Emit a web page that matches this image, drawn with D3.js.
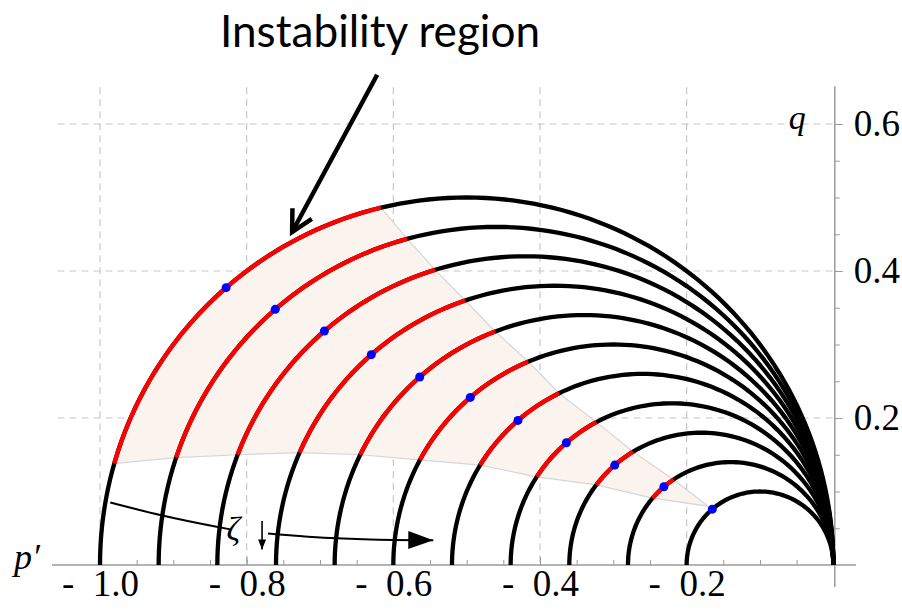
<!DOCTYPE html>
<html>
<head>
<meta charset="utf-8">
<script src="https://cdn.jsdelivr.net/npm/d3@7"></script>
<style>
  body { margin: 0; background: #fff; }
  svg { display: block; }
</style>
</head>
<body>
<svg id="bg" width="902" height="610"></svg>
<script>
// left end of every circle (each one also passes through p' = 0)
var leftEnds = [-1.0, -0.92, -0.84, -0.76, -0.68, -0.60, -0.52, -0.44, -0.36, -0.28, -0.20];
// q where the red part starts on the lower side of each circle
var redStartQ = [0.138, 0.146, 0.150, 0.153, 0.150, 0.143, 0.136, 0.120, 0.109, 0.091];
// p' where the red part stops on the upper side
var redEndP = [-0.617, -0.581, -0.543, -0.502, -0.461, -0.416, -0.374, -0.323, -0.273, -0.218];
// blue points (p' value on each circle)
var dotP = [-0.828, -0.761, -0.694, -0.630, -0.564, -0.495, -0.430, -0.364, -0.298, -0.231, -0.165];
// tip of the shaded region
var tipP = -0.1705, tipQ = 0.080;

var xTicks = [-1.0, -0.8, -0.6, -0.4, -0.2];
var xTickLabels = ['-\u20021.0', '-\u20020.8', '-\u20020.6', '-\u20020.4', '-\u20020.2'];
var yTicks = [0.2, 0.4, 0.6];
var yTickLabels = ['0.2', '0.4', '0.6'];

// annotations, in data units
var titleArrow = [[-0.622, 0.667], [-0.738, 0.453]];
var zetaPath1 = [[-0.986, 0.085], [-0.918, 0.068], [-0.841, 0.052], [-0.823, 0.0486]];
var zetaPath2 = [[-0.771, 0.043], [-0.677, 0.0363], [-0.600, 0.034], [-0.5455, 0.0336]];
var zetaDown = [[-0.779, 0.060], [-0.779, 0.021]];

var x = d3.scaleLinear().domain([-1, 0]).range([100, 833.3]);
var y = d3.scaleLinear().domain([0, 0.6]).range([565, 124]);

var svg = d3.select('#bg');
var serif = '"Liberation Serif", "Times New Roman", serif';

// grid
var gGrid = svg.append('g').attr('class', 'grid');
xTicks.forEach(function(t) {
  gGrid.append('line')
    .attr('x1', x(t)).attr('x2', x(t))
    .attr('y1', y(0.65)).attr('y2', y(0))
    .attr('stroke', '#c8c8c8').attr('stroke-width', 1.2)
    .attr('stroke-dasharray', '7,5');
});
yTicks.forEach(function(t) {
  gGrid.append('line')
    .attr('x1', x(-1.058)).attr('x2', x(0))
    .attr('y1', y(t)).attr('y2', y(t))
    .attr('stroke', '#c8c8c8').attr('stroke-width', 1.2)
    .attr('stroke-dasharray', '7,5');
});

function circ(i) {
  var d = -leftEnds[i];
  return { c: -d / 2, r: d / 2 };
}
function arcPts(i, a0, a1) {
  var k = circ(i), pts = [], n = 120;
  for (var j = 0; j <= n; j++) {
    var a = a0 + (a1 - a0) * j / n;
    pts.push([k.c + k.r * Math.cos(a), k.r * Math.sin(a)]);
  }
  return pts;
}
function startAngle(i) {
  var k = circ(i);
  return Math.PI - Math.asin(redStartQ[i] / k.r);
}
function endAngle(i) {
  var k = circ(i);
  return Math.acos((redEndP[i] - k.c) / k.r);
}
function ptAtP(i, p) {
  var k = circ(i);
  return [p, Math.sqrt(Math.max(0, k.r * k.r - (p - k.c) * (p - k.c)))];
}

var line = d3.line()
  .x(function(d) { return x(d[0]); })
  .y(function(d) { return y(d[1]); });

// shaded instability region
var poly = arcPts(0, startAngle(0), endAngle(0));
for (var i = 1; i < redEndP.length; i++) poly.push(ptAtP(i, redEndP[i]));
poly.push([tipP, tipQ]);
for (var i = redStartQ.length - 1; i >= 1; i--) {
  var k = circ(i);
  poly.push([k.c - Math.sqrt(k.r * k.r - redStartQ[i] * redStartQ[i]), redStartQ[i]]);
}
svg.append('path')
  .datum(poly)
  .attr('d', function(d) { return line(d) + 'Z'; })
  .attr('fill', '#fbf3ee')
  .attr('stroke', '#d6d6d6')
  .attr('stroke-width', 1.2);

// axes
var gx = svg.append('g').attr('transform', 'translate(0,' + y(0) + ')');
gx.append('line').attr('x1', 52).attr('x2', 856).attr('stroke', '#9a9a9a').attr('stroke-width', 1.5);
gx.append('g')
  .call(d3.axisBottom(x).tickValues(d3.range(-1, 0.001, 0.05)).tickSizeInner(-5).tickSizeOuter(0).tickFormat(''))
  .call(function(g) { g.select('.domain').remove(); g.selectAll('line').attr('stroke', '#9a9a9a'); });
gx.append('g')
  .call(d3.axisBottom(x).tickValues(xTicks).tickSizeInner(-8).tickSizeOuter(0).tickPadding(11)
    .tickFormat(function(d, i) { return xTickLabels[i]; }))
  .call(function(g) {
    g.select('.domain').remove();
    g.selectAll('line').attr('stroke', '#9a9a9a');
    g.selectAll('text').attr('font-family', serif).attr('font-size', 37).attr('fill', '#000').attr('dy', '0.55em');
  });

var gy = svg.append('g').attr('transform', 'translate(' + (x(0) + 1.5) + ',0)');
gy.append('line').attr('y1', y(0.651)).attr('y2', 587).attr('stroke', '#9a9a9a').attr('stroke-width', 1.5);
gy.append('g')
  .call(d3.axisRight(y).tickValues(d3.range(0.05, 0.6001, 0.05)).tickSizeInner(5).tickSizeOuter(0).tickFormat(''))
  .call(function(g) { g.select('.domain').remove(); g.selectAll('line').attr('stroke', '#9a9a9a'); });
gy.append('g')
  .call(d3.axisRight(y).tickValues(yTicks).tickSizeInner(8).tickSizeOuter(0).tickPadding(11)
    .tickFormat(function(d, i) { return yTickLabels[i]; }))
  .call(function(g) {
    g.select('.domain').remove();
    g.selectAll('line').attr('stroke', '#9a9a9a');
    g.selectAll('text').attr('font-family', serif).attr('font-size', 37).attr('fill', '#000');
  });

// axis names
svg.append('text').text('q')
  .attr('x', x(-0.049)).attr('y', y(0.593))
  .attr('font-family', serif).attr('font-style', 'italic').attr('font-size', 34)
  .attr('text-anchor', 'middle');
svg.append('text').text('p\u2032')
  .attr('x', x(-1.082)).attr('y', y(-0.005))
  .attr('font-family', serif).attr('font-style', 'italic').attr('font-size', 36)
  .attr('text-anchor', 'end');

// circles
var gArcs = svg.append('g').attr('class', 'arcs');
leftEnds.forEach(function(p, i) {
  gArcs.append('path')
    .datum(arcPts(i, Math.PI, 0))
    .attr('d', line)
    .attr('fill', 'none')
    .attr('stroke', '#000')
    .attr('stroke-width', 4.3);
});
redStartQ.forEach(function(q, i) {
  gArcs.append('path')
    .datum(arcPts(i, startAngle(i), endAngle(i)))
    .attr('d', line)
    .attr('fill', 'none')
    .attr('stroke', '#ff0000')
    .attr('stroke-width', 4.3);
});

// blue points
svg.selectAll('.dot')
  .data(dotP)
  .join('circle')
  .attr('class', 'dot')
  .attr('cx', function(d) { return x(d); })
  .attr('cy', function(d, i) { return y(ptAtP(i, d)[1]); })
  .attr('r', 4.5)
  .attr('fill', '#0000ff');

// title and its arrow
svg.append('text').text('Instability region')
  .attr('x', 380).attr('y', 47)
  .attr('font-family', 'Lato, "Open Sans", sans-serif').attr('font-size', 44)
  .attr('text-anchor', 'middle')
  .attr('textLength', 320).attr('lengthAdjust', 'spacingAndGlyphs');

function arrowHead(from, to, len, half) {
  var x0 = x(from[0]), y0 = y(from[1]), x1 = x(to[0]), y1 = y(to[1]);
  var dx = x1 - x0, dy = y1 - y0, L = Math.sqrt(dx * dx + dy * dy);
  var ux = dx / L, uy = dy / L;
  var bx = x1 - ux * len, by = y1 - uy * len;
  return [[bx - uy * half, by + ux * half], [x1, y1], [bx + uy * half, by - ux * half]];
}
svg.append('path')
  .datum(titleArrow)
  .attr('d', line)
  .attr('stroke', '#000').attr('stroke-width', 4.5).attr('fill', 'none');
svg.append('path')
  .attr('d', d3.line()(arrowHead(titleArrow[0], titleArrow[1], 21, 11)))
  .attr('stroke', '#000').attr('stroke-width', 4.5).attr('fill', 'none')
  .attr('stroke-linejoin', 'miter');

// zeta arrow
var curved = d3.line()
  .x(function(d) { return x(d[0]); })
  .y(function(d) { return y(d[1]); })
  .curve(d3.curveMonotoneX);
svg.append('path').datum(zetaPath1).attr('d', curved)
  .attr('stroke', '#000').attr('stroke-width', 2).attr('fill', 'none');
var z2 = zetaPath2.slice();
svg.append('path').datum(z2).attr('d', curved)
  .attr('stroke', '#000').attr('stroke-width', 2).attr('fill', 'none');
svg.append('path')
  .attr('d', d3.line()(arrowHead(z2[z2.length - 2], z2[z2.length - 1], 25, 9)) + 'Z')
  .attr('fill', '#000');
svg.append('text').text('\u03B6')
  .attr('x', x(-0.818)).attr('y', y(0.034))
  .attr('font-family', serif).attr('font-style', 'italic').attr('font-size', 34)
  .attr('text-anchor', 'middle');
svg.append('path').datum(zetaDown).attr('d', line)
  .attr('stroke', '#000').attr('stroke-width', 1.6).attr('fill', 'none');
svg.append('path')
  .attr('d', d3.line()(arrowHead(zetaDown[0], zetaDown[1], 10, 4)) + 'Z')
  .attr('fill', '#000');
</script>
</body>
</html>
